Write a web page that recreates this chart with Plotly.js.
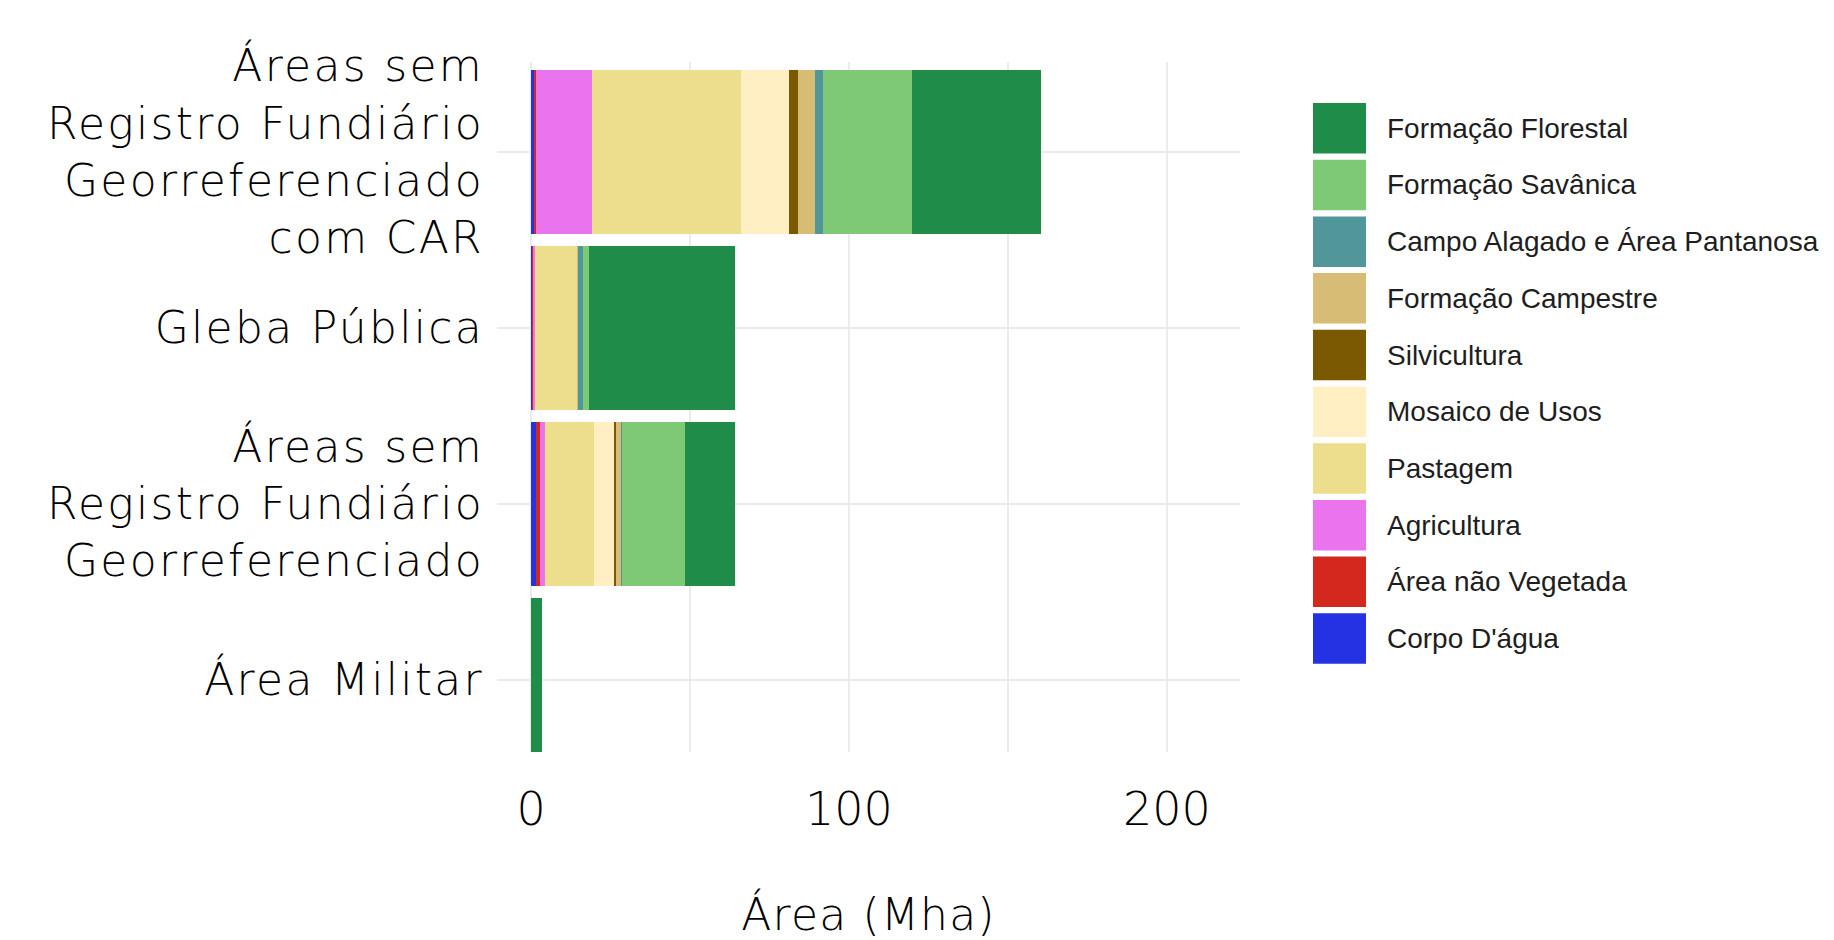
<!DOCTYPE html>
<html>
<head>
<meta charset="utf-8">
<script src="https://cdn.plot.ly/plotly-3.0.1.min.js"></script>
<style>
  html, body { margin: 0; padding: 0; background: #ffffff; }
  #chart { width: 1834px; height: 940px; }
  #chart .ytick text { letter-spacing: 2.3px; }
  #chart .g-xtitle text { letter-spacing: 1.2px; }
</style>
</head>
<body>
<div id="chart"></div>
<script>
// Categories (bottom to top on the y axis)
const categories = [
  "Área Militar",
  "Áreas sem<br>Registro Fundiário<br>Georreferenciado",
  "Gleba Pública",
  "Áreas sem<br>Registro Fundiário<br>Georreferenciado<br>com CAR"
];

// Classes in legend order (top to bottom)
const classNames = [
  "Formação Florestal",
  "Formação Savânica",
  "Campo Alagado e Área Pantanosa",
  "Formação Campestre",
  "Silvicultura",
  "Mosaico de Usos",
  "Pastagem",
  "Agricultura",
  "Área não Vegetada",
  "Corpo D'água"
];

const classColors = [
  "#1f8d49",
  "#7dc975",
  "#519799",
  "#d6bc74",
  "#7a5900",
  "#ffefc3",
  "#edde8e",
  "#e974ed",
  "#d4271e",
  "#2532e4"
];

// Values in Mha, ordered as the categories array
const formacaoFlorestal = [3.5, 15.7, 46.0, 40.6];
const formacaoSavanica  = [0, 19.7, 1.8, 27.9];
const campoAlagado      = [0, 0.3, 1.6, 2.6];
const formacaoCampestre = [0, 1.6, 0.2, 5.3];
const silvicultura      = [0, 0.85, 0, 2.6];
const mosaicoDeUsos     = [0, 6.2, 0, 15.4];
const pastagem          = [0, 15.5, 13.1, 46.8];
const agricultura       = [0, 1.6, 0.8, 17.4];
const areaNaoVegetada   = [0, 1.2, 0.2, 0.7];
const corpoDagua        = [0, 1.5, 0.4, 1.0];

const classValues = [
  formacaoFlorestal, formacaoSavanica, campoAlagado, formacaoCampestre,
  silvicultura, mosaicoDeUsos, pastagem, agricultura, areaNaoVegetada, corpoDagua
];

const xTickVals = [0, 100, 200];
const xTitle = "Área (Mha)";

// Stack from left: last legend entry first
const traces = [];
for (let i = classNames.length - 1; i >= 0; i--) {
  traces.push({
    type: "bar",
    orientation: "h",
    name: classNames[i],
    x: classValues[i],
    y: categories,
    marker: { color: classColors[i], line: { width: 0 } },
    showlegend: false,
    hoverinfo: "x+name"
  });
}

// Geometry of the figure (pixels)
const W = 1834, H = 940;
const mL = 497, mR = 1834 - 1240, mT = 62, mB = 940 - 752;
const plotW = W - mL - mR, plotH = H - mT - mB;
const px2paperX = px => (px - mL) / plotW;
const px2paperY = py => (H - mB - py) / plotH;

// Custom legend (big swatches) built from classNames / classColors
const shapes = [];
const annotations = [];
const legTop = 103, legPitch = 56.7, swH = 50.5, swX0 = 1313, swX1 = 1366, txtX = 1385;
classNames.forEach((n, i) => {
  const top = legTop + i * legPitch;
  shapes.push({
    type: "rect", xref: "paper", yref: "paper",
    x0: px2paperX(swX0), x1: px2paperX(swX1),
    y0: px2paperY(top + swH), y1: px2paperY(top),
    fillcolor: classColors[i], line: { width: 0 }, layer: "above"
  });
  annotations.push({
    xref: "paper", yref: "paper",
    x: px2paperX(txtX), y: px2paperY(top + swH / 2),
    xanchor: "left", yanchor: "middle",
    text: n, showarrow: false,
    font: { family: "Liberation Sans, Arial, sans-serif", size: 28, color: "#1e1e1e" }
  });
});

const mainFont = "DejaVu Sans, Inter, sans-serif";

const layout = {
  width: W, height: H,
  margin: { l: mL, r: mR, t: mT, b: mB, pad: 0 },
  paper_bgcolor: "#ffffff",
  plot_bgcolor: "#ffffff",
  barmode: "stack",
  bargap: 0.07,
  showlegend: false,
  xaxis: {
    range: [-10.7, 223],
    tickvals: xTickVals,
    ticktext: xTickVals.map(String),
    showgrid: true,
    gridcolor: "#ebebeb",
    gridwidth: 2,
    minor: { dtick: 50, tick0: 0, showgrid: true, gridcolor: "#ebebeb", gridwidth: 2 },
    zeroline: false,
    showline: false,
    ticks: "",
    ticklabelstandoff: 26,
    tickfont: { family: mainFont, weight: 200, size: 46, color: "#000000" },
    title: {
      text: xTitle,
      standoff: 68,
      font: { family: mainFont, weight: 200, size: 44, color: "#000000" }
    },
    fixedrange: true
  },
  yaxis: {
    type: "category",
    categoryorder: "array",
    categoryarray: categories,
    range: [-0.41, 3.51],
    showgrid: true,
    gridcolor: "#ebebeb",
    gridwidth: 2,
    zeroline: false,
    showline: false,
    ticks: "",
    ticklabelstandoff: 12,
    tickfont: { family: mainFont, weight: 200, size: 44, color: "#000000" },
    fixedrange: true
  },
  shapes: shapes,
  annotations: annotations
};

Plotly.newPlot("chart", traces, layout, { displayModeBar: false, responsive: false });
</script>
</body>
</html>
